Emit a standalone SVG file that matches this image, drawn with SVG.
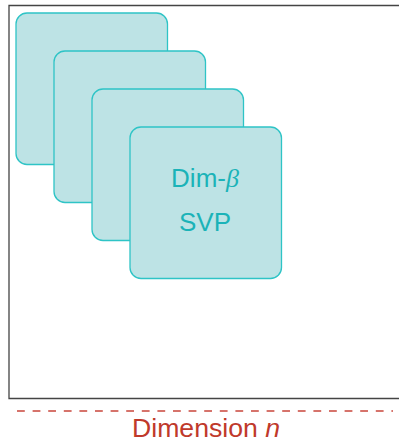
<svg xmlns="http://www.w3.org/2000/svg" width="399" height="443" viewBox="0 0 399 443">
  <style>
    .frame { fill: none; stroke: #444; stroke-width: 1.3; }
    .card { fill: #bde3e5; stroke: #2ec4c6; stroke-width: 1.3; }
    .lbl { font-family: "Liberation Sans", "DejaVu Sans", sans-serif; font-size: 26px; fill: #1bb3b8; text-anchor: middle; }
    .dim { font-family: "Liberation Sans", "DejaVu Sans", sans-serif; font-size: 25px; fill: #c0392b; text-anchor: middle; }
    .guide { stroke: #c9453b; stroke-width: 1.5; stroke-dasharray: 7.8 7.8; fill: none; }
  </style>
  <rect fill="#fff" width="399" height="443"/>
  <!-- lattice frame, open on the right -->
  <path class="frame" d="M402 5.5 H9 V398.5 H402"/>
  <g id="block-1"><rect class="card" x="16" y="13" width="151.5" height="151.5" rx="11"/></g>
  <g id="block-2"><rect class="card" x="54" y="51" width="151.5" height="151.5" rx="11"/></g>
  <g id="block-3"><rect class="card" x="92" y="89" width="151.5" height="151.5" rx="11"/></g>
  <g id="block-4">
    <rect class="card" x="130" y="127" width="151.5" height="151.5" rx="11"/>
    <text class="lbl" x="205" y="187">Dim-<tspan font-family="Liberation Serif, serif" font-style="italic">β</tspan></text>
    <text class="lbl" x="205" y="231">SVP</text>
  </g>
  <g id="connectors">
    <line class="guide" x1="17" y1="411" x2="393" y2="411"/>
  </g>
  <text class="dim" x="206" y="437" textLength="148" lengthAdjust="spacingAndGlyphs">Dimension <tspan font-style="italic">n</tspan></text>
</svg>
